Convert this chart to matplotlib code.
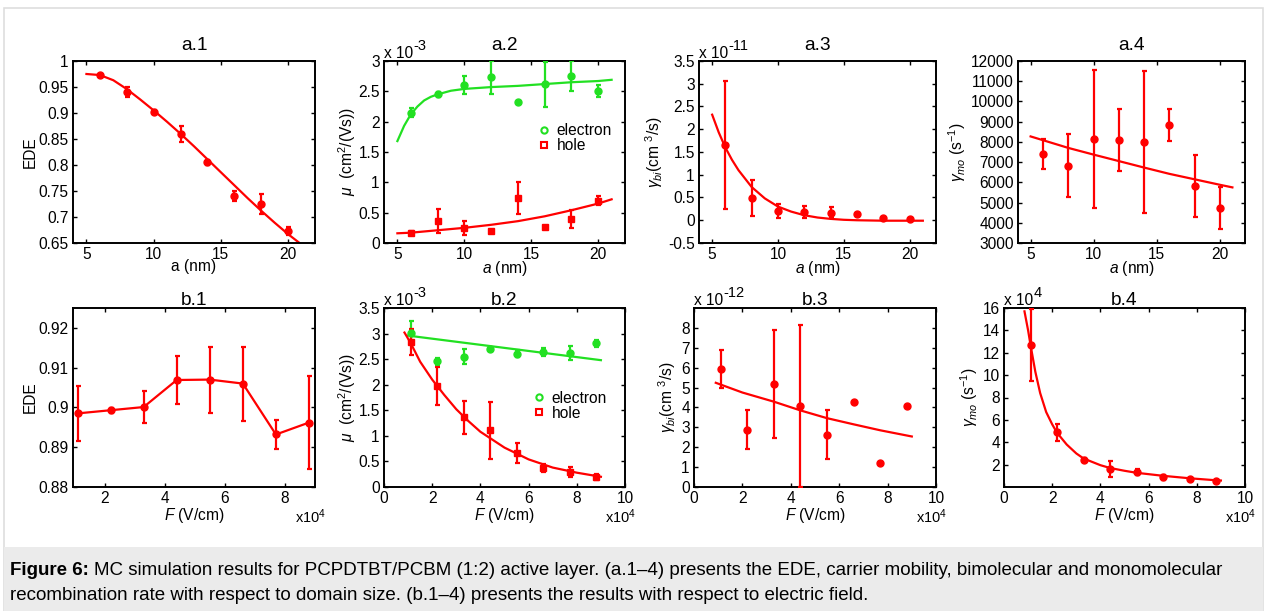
import matplotlib
matplotlib.use('Agg')
import matplotlib.pyplot as plt
from matplotlib.lines import Line2D
from matplotlib.patches import Rectangle
from matplotlib.text import Annotation
from matplotlib.ticker import FuncFormatter
import numpy as np

# MC simulation results, figure 6 (domain size a, electric field F)

plt.rcParams['font.family'] = ['Liberation Sans', 'DejaVu Sans']
plt.rcParams['mathtext.fontset'] = 'custom'
plt.rcParams['mathtext.rm'] = 'Liberation Sans'
plt.rcParams['mathtext.it'] = 'Liberation Sans:italic'
plt.rcParams['mathtext.bf'] = 'Liberation Sans:bold'
plt.rcParams['axes.unicode_minus'] = False

RED = '#ff0000'
GREEN = '#22e022'

# ---- row a : domain size (nm)
a_size = [6, 8, 10, 12, 14, 16, 18, 20]

a1_ede = [0.973, 0.940, 0.902, 0.860, 0.805, 0.740, 0.725, 0.673]
a1_err = [0.002, 0.010, 0.003, 0.015, 0.005, 0.010, 0.020, 0.007]
a1_fit_x = [5, 6, 7, 8, 9, 10, 11, 12, 13, 14, 15, 16, 17, 18, 19, 20, 21]
a1_fit_y = [0.975, 0.973, 0.963, 0.946, 0.926, 0.905, 0.883, 0.860, 0.836, 0.811,
            0.786, 0.761, 0.736, 0.712, 0.689, 0.667, 0.647]

# mobility, x 1e-3 cm^2/(Vs)
a2_elec = [2.15, 2.45, 2.60, 2.73, 2.32, 2.62, 2.75, 2.50]
a2_elec_err = [0.08, 0.04, 0.15, 0.27, 0.0, 0.37, 0.25, 0.10]
a2_hole = [0.17, 0.36, 0.25, 0.19, 0.74, 0.26, 0.39, 0.70]
a2_hole_err = [0.02, 0.20, 0.11, 0.03, 0.26, 0.0, 0.15, 0.08]
a2_elec_fit_x = [5, 5.5, 6, 6.5, 7, 7.5, 8, 9, 10, 12, 14, 16, 18, 20, 21]
a2_elec_fit_y = [1.68, 1.93, 2.12, 2.25, 2.35, 2.41, 2.45, 2.51, 2.54, 2.57, 2.59,
                 2.62, 2.65, 2.67, 2.69]
a2_hole_fit_x = [5, 6, 8, 10, 12, 14, 16, 18, 20, 21]
a2_hole_fit_y = [0.16, 0.17, 0.21, 0.25, 0.30, 0.36, 0.44, 0.54, 0.65, 0.72]

# bimolecular rate, x 1e-11 cm^3/s
a3_bi = [1.65, 0.49, 0.20, 0.19, 0.17, 0.13, 0.06, 0.03]
a3_err = [1.40, 0.40, 0.16, 0.13, 0.12, 0.0, 0.0, 0.0]
a3_fit_x = [5, 5.5, 6, 6.5, 7, 8, 9, 10, 11, 12, 13, 14, 15, 16, 18, 21]
a3_fit_y = [2.32, 1.93, 1.60, 1.33, 1.10, 0.73, 0.48, 0.30, 0.19, 0.11, 0.06, 0.03,
            0.01, 0.0, -0.01, -0.01]

# monomolecular rate, s^-1
a4_mo = [7400, 6830, 8150, 8080, 8000, 8830, 5800, 4720]
a4_err = [750, 1550, 3400, 1530, 3500, 800, 1530, 1050]
a4_fit_x = [5, 8, 10, 12, 14, 16, 18, 20, 21]
a4_fit_y = [8270, 7700, 7370, 7050, 6730, 6420, 6150, 5880, 5750]

# ---- row b : electric field (x 1e4 V/cm)
b_field = [1.1, 2.2, 3.3, 4.4, 5.5, 6.6, 7.7, 8.8]

b1_ede = [0.8985, 0.8993, 0.9001, 0.9069, 0.9070, 0.9060, 0.8932, 0.8962]
b1_err = [0.0069, 0.0006, 0.0041, 0.0061, 0.0083, 0.0093, 0.0037, 0.0117]

b2_elec = [3.02, 2.46, 2.55, 2.69, 2.61, 2.64, 2.62, 2.81]
b2_elec_err = [0.22, 0.07, 0.15, 0.03, 0.07, 0.08, 0.13, 0.07]
b2_hole = [2.83, 1.97, 1.36, 1.11, 0.66, 0.37, 0.29, 0.20]
b2_hole_err = [0.25, 0.37, 0.33, 0.56, 0.20, 0.08, 0.10, 0.06]
b2_elec_fit_x = [1.0, 3.0, 5.0, 7.0, 9.0]
b2_elec_fit_y = [2.96, 2.84, 2.72, 2.60, 2.48]
b2_hole_fit_x = [0.85, 1.1, 1.5, 2.0, 2.5, 3.0, 3.5, 4.0, 5.0, 6.0, 7.0, 8.0, 9.0]
b2_hole_fit_y = [3.02, 2.82, 2.45, 2.10, 1.80, 1.52, 1.29, 1.08, 0.77, 0.54, 0.38,
                 0.28, 0.20]

b3_bi = [5.92, 2.88, 5.18, 4.07, 2.63, 4.25, 1.23, 4.05]
b3_err = [0.95, 0.97, 2.72, 4.08, 1.22, 0.0, 0.0, 0.0]
b3_fit_x = [0.9, 2.0, 3.3, 4.4, 5.5, 6.6, 7.7, 9.0]
b3_fit_y = [5.24, 4.75, 4.29, 3.85, 3.46, 3.15, 2.85, 2.54]

b4_mo = [12.7, 4.9, 2.4, 1.6, 1.35, 0.85, 0.68, 0.55]
b4_err = [3.2, 0.75, 0.15, 0.70, 0.25, 0.18, 0.10, 0.10]
b4_fit_x = [0.85, 1.0, 1.1, 1.3, 1.5, 1.75, 2.0, 2.2, 2.6, 3.0, 3.3, 4.0, 4.4, 5.0,
            5.5, 6.6, 7.7, 8.8, 9.0]
b4_fit_y = [15.7, 14.0, 12.7, 10.3, 8.4, 6.7, 5.6, 4.85, 3.8, 3.0, 2.55, 1.95, 1.7,
            1.45, 1.27, 1.0, 0.78, 0.6, 0.58]

W, H = 1265, 611
fig = plt.figure(figsize=(W / 100, H / 100), dpi=100)
fig.patch.set_facecolor('white')

# frame and caption box
fig.patches.append(Rectangle((4 / W, 0), 1 - 6 / W, 1 - 8 / H, transform=fig.transFigure,
                             facecolor='none', edgecolor='#dedede', lw=1.2, zorder=0))
fig.patches.append(Rectangle((4 / W, 0), 1 - 6 / W, 64 / H, transform=fig.transFigure,
                             facecolor='#ebebeb', edgecolor='none', zorder=0))

fmt = FuncFormatter(lambda v, p: '%g' % round(v, 6))


def px_axes(l, t, r, b):
    return fig.add_axes([l / W, 1 - b / H, (r - l) / W, (b - t) / H])


def setup(ax, xlim, ylim, xticks, yticks, title, pad):
    ax.set_xlim(xlim)
    ax.set_ylim(ylim)
    ax.set_xticks(xticks)
    ax.set_yticks(yticks)
    ax.xaxis.set_major_formatter(fmt)
    ax.yaxis.set_major_formatter(fmt)
    ax.tick_params(direction='in', top=True, right=True, length=3, width=1,
                   labelsize=11.2, pad=3, colors='black')
    for s in ax.spines.values():
        s.set_linewidth(1.4)
    ax.set_title(title, fontsize=13.8, pad=pad)


def points(ax, x, y, err, color, marker='o'):
    ax.errorbar(x, y, yerr=err, fmt=marker, color=color, ms=5, elinewidth=1.6,
                capsize=1.8, capthick=1.6, zorder=3)


def multiplier(ax, expo):
    # MATLAB style "x 10" with a full size exponent
    t = ax.text(0.0, 1.0, 'x 10', transform=ax.transAxes, ha='left', va='bottom',
                fontsize=11.2)
    fig.add_artist(Annotation(expo, xy=(1, 0.55), xycoords=t, xytext=(0.5, 0),
                              textcoords='offset points', ha='left', va='bottom',
                              fontsize=10.5, annotation_clip=False))


def field_mult(ax):
    ax.text(1.045, -0.165, r'x10$^4$', transform=ax.transAxes, ha='right', va='center',
            fontsize=10.5)


# a.1
ax = px_axes(73, 61, 315, 243)
ax.plot(a1_fit_x, a1_fit_y, color=RED, lw=1.6)
points(ax, a_size, a1_ede, a1_err, RED)
setup(ax, (4, 22), (0.65, 1.0), [5, 10, 15, 20], np.arange(0.65, 1.001, 0.05), 'a.1', 8)
ax.set_xlabel('a (nm)', fontsize=11.2, labelpad=-2)
ax.set_ylabel('EDE', fontsize=11.2, labelpad=1)

# a.2
ax = px_axes(384, 61, 625, 243)
ax.plot(a2_elec_fit_x, a2_elec_fit_y, color=GREEN, lw=1.6)
ax.plot(a2_hole_fit_x, a2_hole_fit_y, color=RED, lw=1.6)
points(ax, a_size, a2_elec, a2_elec_err, GREEN)
points(ax, a_size, a2_hole, a2_hole_err, RED, 's')
setup(ax, (4, 22), (0, 3), [5, 10, 15, 20], np.arange(0, 3.01, 0.5), 'a.2', 8)
ax.set_xlabel(r'$a$ (nm)', fontsize=11.2, labelpad=-2)
ax.set_ylabel(r'$\mu$  (cm$^2$/(Vs))', fontsize=11.2, labelpad=0)
multiplier(ax, '-3')
leg = [Line2D([], [], ls='none', marker='o', mfc='none', mec=GREEN, ms=4.5, mew=1.5),
       Line2D([], [], ls='none', marker='s', mfc='none', mec=RED, ms=4, mew=1.5)]
ax.legend(leg, ['electron', 'hole'], loc='center left', bbox_to_anchor=(0.6, 0.575),
          frameon=False, fontsize=11.2, handlelength=1.0, handletextpad=0.3,
          labelspacing=0.0, borderpad=0)

# a.3
ax = px_axes(699, 61, 936, 243)
ax.plot(a3_fit_x, a3_fit_y, color=RED, lw=1.6)
points(ax, a_size, a3_bi, a3_err, RED)
setup(ax, (4, 22), (-0.5, 3.5), [5, 10, 15, 20], np.arange(-0.5, 3.51, 0.5), 'a.3', 8)
ax.set_xlabel(r'$a$ (nm)', fontsize=11.2, labelpad=-2)
ax.set_ylabel(r'$\gamma_{bi}$(cm $^3$/s)', fontsize=11.2, labelpad=2)
multiplier(ax, '-11')

# a.4
ax = px_axes(1018, 61, 1245, 243)
ax.plot(a4_fit_x, a4_fit_y, color=RED, lw=1.6)
points(ax, a_size, a4_mo, a4_err, RED)
setup(ax, (4, 22), (3000, 12000), [5, 10, 15, 20], np.arange(3000, 12001, 1000), 'a.4', 8)
ax.set_xlabel(r'$a$ (nm)', fontsize=11.2, labelpad=-2)
ax.set_ylabel(r'$\gamma_{mo}$ (s$^{-1}$)', fontsize=11.2, labelpad=2)

# b.1
ax = px_axes(73, 308, 315, 487)
ax.errorbar(b_field, b1_ede, yerr=b1_err, fmt='-o', color=RED, ms=5, lw=1.6,
            elinewidth=1.6, capsize=1.8, capthick=1.6)
setup(ax, (0.95, 9.0), (0.88, 0.925), [2, 4, 6, 8], np.arange(0.88, 0.9201, 0.01), 'b.1', 2)
ax.set_xlabel(r'$F$ (V/cm)', fontsize=11.2, labelpad=0)
ax.set_ylabel('EDE', fontsize=11.2, labelpad=1)
field_mult(ax)

# b.2
ax = px_axes(384, 308, 625, 487)
ax.plot(b2_elec_fit_x, b2_elec_fit_y, color=GREEN, lw=1.6)
ax.plot(b2_hole_fit_x, b2_hole_fit_y, color=RED, lw=1.6)
points(ax, b_field, b2_elec, b2_elec_err, GREEN)
points(ax, b_field, b2_hole, b2_hole_err, RED, 's')
setup(ax, (0, 10), (0, 3.5), np.arange(0, 11, 2), np.arange(0, 3.51, 0.5), 'b.2', 2)
ax.set_xlabel(r'$F$ (V/cm)', fontsize=11.2, labelpad=0)
ax.set_ylabel(r'$\mu$  (cm$^2$/(Vs))', fontsize=11.2, labelpad=0)
multiplier(ax, '-3')
field_mult(ax)
ax.legend(leg, ['electron', 'hole'], loc='center left', bbox_to_anchor=(0.58, 0.455),
          frameon=False, fontsize=11.2, handlelength=1.0, handletextpad=0.3,
          labelspacing=0.0, borderpad=0)

# b.3
ax = px_axes(694, 308, 936, 487)
ax.plot(b3_fit_x, b3_fit_y, color=RED, lw=1.6)
points(ax, b_field, b3_bi, b3_err, RED)
setup(ax, (0, 10), (0, 9), np.arange(0, 11, 2), np.arange(0, 8.1, 1), 'b.3', 2)
ax.set_xlabel(r'$F$ (V/cm)', fontsize=11.2, labelpad=0)
ax.set_ylabel(r'$\gamma_{bi}$(cm $^3$/s)', fontsize=11.2, labelpad=2)
multiplier(ax, '-12')
field_mult(ax)

# b.4
ax = px_axes(1004, 308, 1245, 487)
ax.plot(b4_fit_x, b4_fit_y, color=RED, lw=1.6)
points(ax, b_field, b4_mo, b4_err, RED)
setup(ax, (0, 10), (0, 16), np.arange(0, 11, 2), np.arange(2, 16.1, 2), 'b.4', 2)
ax.set_xlabel(r'$F$ (V/cm)', fontsize=11.2, labelpad=0)
ax.set_ylabel(r'$\gamma_{mo}$ (s$^{-1}$)', fontsize=11.2, labelpad=2)
multiplier(ax, '4')
field_mult(ax)

# caption, bold lead-in then the rest of the line
cap = fig.text(10 / W, 1 - 579 / H, 'Figure 6:', fontsize=13.5, weight='bold',
               va='bottom', ha='left')
fig.add_artist(Annotation('MC simulation results for PCPDTBT/PCBM (1:2) active layer. '
                          '(a.1\u20134) presents the EDE, carrier mobility, bimolecular and '
                          'monomolecular', xy=(1, 0), xycoords=cap, xytext=(3.5, 0),
                          textcoords='offset points', fontsize=13.5, va='bottom', ha='left'))
fig.text(10 / W, 1 - 604 / H, 'recombination rate with respect to domain size. (b.1\u20134) '
         'presents the results with respect to electric field.', fontsize=13.5,
         va='bottom', ha='left')

fig.savefig('out.png', dpi=100)
